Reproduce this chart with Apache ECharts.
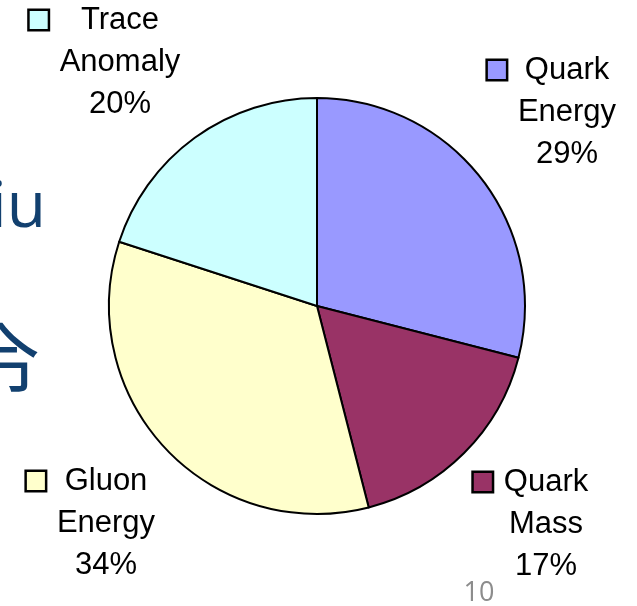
<!DOCTYPE html>
<html>
<head>
<meta charset="utf-8">
<script src="https://cdn.jsdelivr.net/npm/echarts@6/dist/echarts.min.js"></script>
<style>
  html, body { margin: 0; padding: 0; background: #fff; }
  #chart { width: 637px; height: 606px; }
</style>
</head>
<body>
<div id="chart"></div>
<script>
// slices, clockwise from 12 o'clock
const names = ['Quark\nEnergy', 'Quark\nMass', 'Gluon\nEnergy', 'Trace\nAnomaly'];
const values = [29, 17, 34, 20];
const colors = ['#9999ff', '#993366', '#ffffcc', '#ccffff'];

// where each label block sits (center of the block)
const labelPos = [[567, 112], [546, 524], [106, 523], [120, 62]];

const FONT = '"Liberation Sans", Arial, sans-serif';
const FS = 31;
const SQ = 18;

const ctx = document.createElement('canvas').getContext('2d');
ctx.font = FS + 'px ' + FONT;
const w = s => ctx.measureText(s).width;

const rich = { };
const data = names.map((n, i) => {
  const lines = n.split('\n').concat([values[i] + '%']);
  const widest = Math.max(...lines.map(w));
  const gap = (widest - w(lines[0])) / 2 + 12;
  rich['sq' + i] = {
    width: SQ, height: SQ, backgroundColor: colors[i],
    borderColor: '#000', borderWidth: 2.5, verticalAlign: 'middle'
  };
  rich['gap' + i] = { width: gap };
  rich['pad' + i] = { width: SQ + gap };
  const text = '{sq' + i + '| }{gap' + i + '| }' + lines[0] + '{pad' + i + '| }\n' +
    lines.slice(1).join('\n');
  return {
    name: n.replace('\n', ' '),
    value: values[i],
    itemStyle: { color: colors[i] },
    label: { formatter: text }
  };
});

const chart = echarts.init(document.getElementById('chart'));
chart.setOption({
  animation: false,
  graphic: [
    {
      type: 'text', x: 46, y: 177,
      style: {
        text: 'iu', font: '64px "Open Sans", sans-serif', fill: '#12406f',
        textAlign: 'right', textVerticalAlign: 'top'
      }
    },
    {
      type: 'text', x: 0, y: 360,
      style: {
        text: '令', font: '80px "Noto Sans CJK JP", sans-serif', fill: '#12406f',
        textAlign: 'center', textVerticalAlign: 'middle'
      }
    },
    {
      type: 'text', x: 479, y: 593,
      style: {
        text: '10', font: '27px "Open Sans", sans-serif', fill: '#8c8c8c',
        textAlign: 'center', textVerticalAlign: 'middle'
      }
    }
  ],
  series: [{
    type: 'pie',
    center: [317, 306],
    radius: 208,
    startAngle: 90,
    clockwise: true,
    avoidLabelOverlap: false,
    silent: true,
    data: data,
    itemStyle: { borderColor: '#000', borderWidth: 2 },
    emphasis: { disabled: true },
    labelLine: { show: false },
    label: {
      show: true,
      color: '#000',
      fontFamily: FONT,
      fontSize: FS,
      lineHeight: 42,
      align: 'center',
      rich: rich
    },
    labelLayout: p => ({
      x: labelPos[p.dataIndex][0],
      y: labelPos[p.dataIndex][1],
      align: 'center',
      verticalAlign: 'middle'
    })
  }]
});
</script>
</body>
</html>
